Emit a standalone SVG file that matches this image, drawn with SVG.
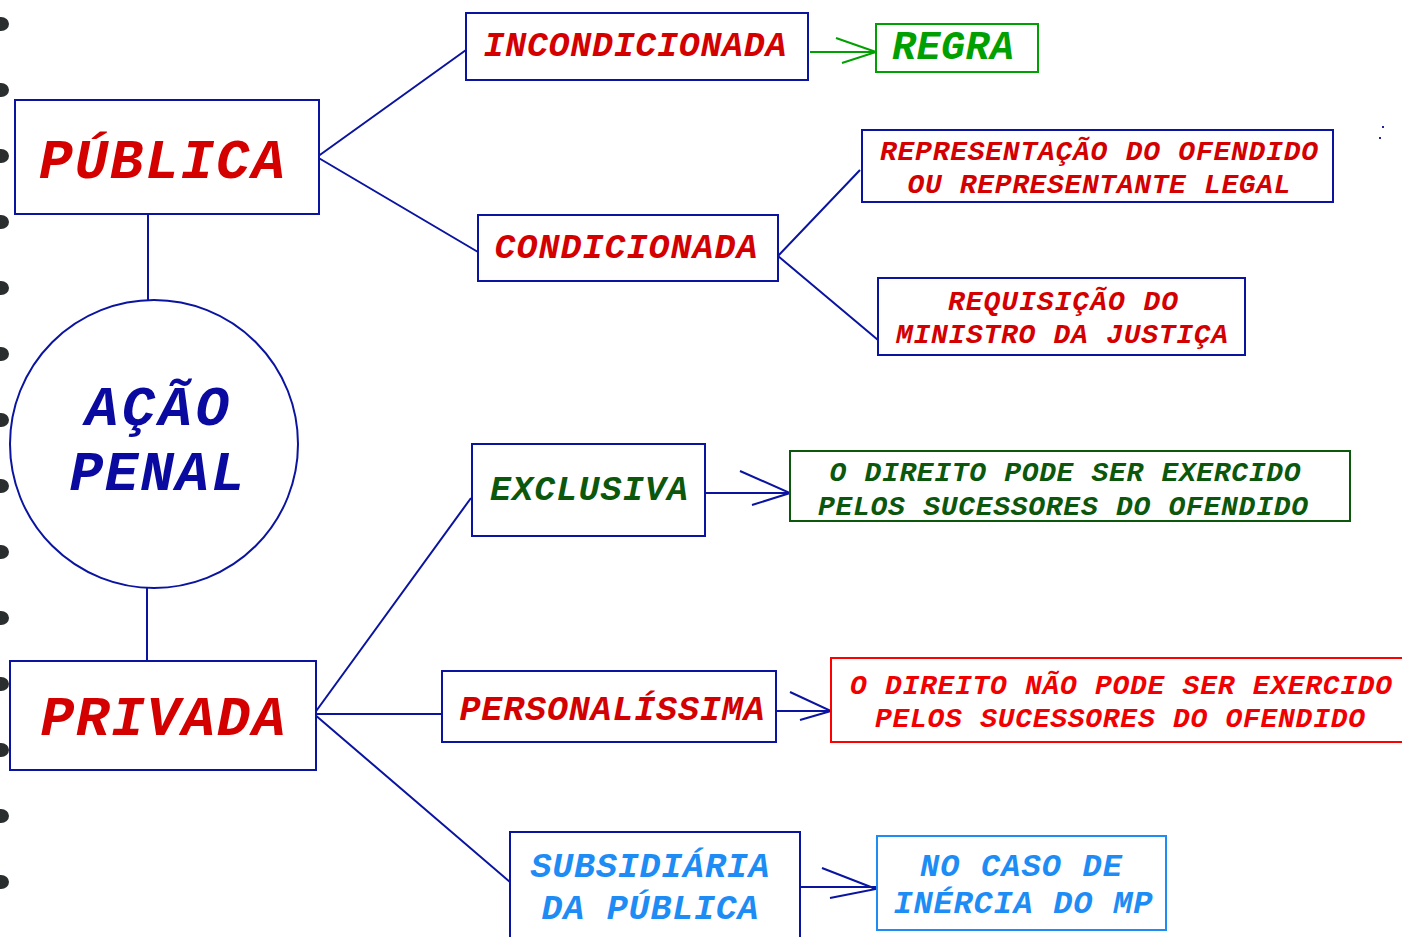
<svg xmlns="http://www.w3.org/2000/svg" width="1402" height="937" viewBox="0 0 1402 937">
<style>
.t{font-family:"Liberation Mono","Courier New",monospace;font-weight:bold;font-style:italic;text-anchor:middle}
.nb{fill:#fff;stroke:#0a14a0;stroke-width:2}
.ln{stroke:#0a14a0;stroke-width:2;fill:none}
.red{fill:#d40000}
.navy{fill:#0a0aa0}
</style>
<rect width="1402" height="937" fill="#fff"/>
<g id="binding" fill="#2a2e2e">
<ellipse cx="1" cy="24" rx="8" ry="7"/><ellipse cx="1" cy="90" rx="8" ry="7"/><ellipse cx="1" cy="156" rx="8" ry="7"/><ellipse cx="1" cy="222" rx="8" ry="7"/><ellipse cx="1" cy="288" rx="8" ry="7"/><ellipse cx="1" cy="354" rx="8" ry="7"/><ellipse cx="1" cy="420" rx="8" ry="7"/><ellipse cx="1" cy="486" rx="8" ry="7"/><ellipse cx="1" cy="552" rx="8" ry="7"/><ellipse cx="1" cy="618" rx="8" ry="7"/><ellipse cx="1" cy="684" rx="8" ry="7"/><ellipse cx="1" cy="750" rx="8" ry="7"/><ellipse cx="1" cy="816" rx="8" ry="7"/><ellipse cx="1" cy="882" rx="8" ry="7"/>
</g>
<g id="connectors">
<path class="ln" d="M148 214V300M147 588V661"/>
<path class="ln" d="M317 157L466 50M317 157L478 252"/>
<path class="ln" d="M778 256L860 170M778 256L878 340"/>
<path class="ln" d="M314 714L471 498M316 714H442M314 714L510 882"/>
<path d="M810 52H876M836 38L876 52L842 63" fill="none" stroke="#00a000" stroke-width="2"/>
<path class="ln" d="M705 493H790M740 471L790 493L752 505"/>
<path class="ln" d="M776 711H831M790 692L831 711L800 720"/>
<path class="ln" d="M800 887H876M822 868L876 889L830 898"/>
</g>
<g id="publica"><rect class="nb" x="15" y="100" width="304" height="114"/><text class="t red" x="162" y="178" font-size="56" textLength="246">PÚBLICA</text></g>
<g id="acao-penal"><circle class="nb" cx="154" cy="444" r="144"/><text class="t navy" x="157" y="425" font-size="56" textLength="144">AÇÃO</text><text class="t navy" x="157" y="490" font-size="56" textLength="175">PENAL</text></g>
<g id="privada"><rect class="nb" x="10" y="661" width="306" height="109"/><text class="t red" x="163" y="735" font-size="56" textLength="245">PRIVADA</text></g>
<g id="incondicionada"><rect class="nb" x="466" y="13" width="342" height="67"/><text class="t red" x="635" y="56" font-size="35" textLength="303">INCONDICIONADA</text></g>
<g id="regra"><rect x="876" y="24" width="162" height="48" fill="#fff" stroke="#00a000" stroke-width="2"/><text class="t" fill="#00a000" x="953" y="59" font-size="40" textLength="122">REGRA</text></g>
<g id="condicionada"><rect class="nb" x="478" y="215" width="300" height="66"/><text class="t red" x="626" y="258" font-size="35" textLength="263">CONDICIONADA</text></g>
<g id="representacao"><rect class="nb" x="862" y="130" width="471" height="72"/><text class="t red" x="1099" y="160" font-size="28" textLength="438">REPRESENTAÇÃO DO OFENDIDO</text><text class="t red" x="1099" y="193" font-size="28" textLength="383">OU REPRESENTANTE LEGAL</text></g>
<g id="requisicao"><rect class="nb" x="878" y="278" width="367" height="77"/><text class="t red" x="1063" y="310" font-size="28" textLength="230">REQUISIÇÃO DO</text><text class="t red" x="1062" y="343" font-size="28" textLength="332">MINISTRO DA JUSTIÇA</text></g>
<g id="exclusiva"><rect class="nb" x="472" y="444" width="233" height="92"/><text class="t" fill="#0b570b" x="589" y="500" font-size="35" textLength="198">EXCLUSIVA</text></g>
<g id="pode"><rect x="790" y="451" width="560" height="70" fill="#fff" stroke="#0b570b" stroke-width="2"/><text class="t" fill="#0b570b" x="1065" y="481" font-size="28" textLength="471">O DIREITO PODE SER EXERCIDO</text><text class="t" fill="#0b570b" x="1063" y="515" font-size="28" textLength="490">PELOS SUCESSORES DO OFENDIDO</text></g>
<g id="personalissima"><rect class="nb" x="442" y="671" width="334" height="71"/><text class="t red" x="612" y="720" font-size="35" textLength="305">PERSONALÍSSIMA</text></g>
<g id="nao-pode"><rect x="831" y="658" width="590" height="84" fill="#fff" stroke="#ff0000" stroke-width="2"/><text class="t" fill="#f00000" x="1121" y="694" font-size="28" textLength="542">O DIREITO NÃO PODE SER EXERCIDO</text><text class="t" fill="#f00000" x="1120" y="727" font-size="28" textLength="490">PELOS SUCESSORES DO OFENDIDO</text></g>
<g id="subsidiaria"><rect class="nb" x="510" y="832" width="290" height="120"/><text class="t" fill="#1e8cf5" x="650" y="877" font-size="35" textLength="239">SUBSIDIÁRIA</text><text class="t" fill="#1e8cf5" x="650" y="919" font-size="35" textLength="217">DA PÚBLICA</text></g>
<g id="inercia"><rect x="877" y="836" width="289" height="94" fill="#fff" stroke="#1e8cf5" stroke-width="2"/><text class="t" fill="#1e8cf5" x="1021" y="876" font-size="32" textLength="202">NO CASO DE</text><text class="t" fill="#1e8cf5" x="1023" y="913" font-size="32" textLength="259">INÉRCIA DO MP</text></g>
<g id="specks" fill="#2020a0"><rect x="1382" y="126" width="2" height="2"/><rect x="1379" y="137" width="2" height="2"/></g>
</svg>
